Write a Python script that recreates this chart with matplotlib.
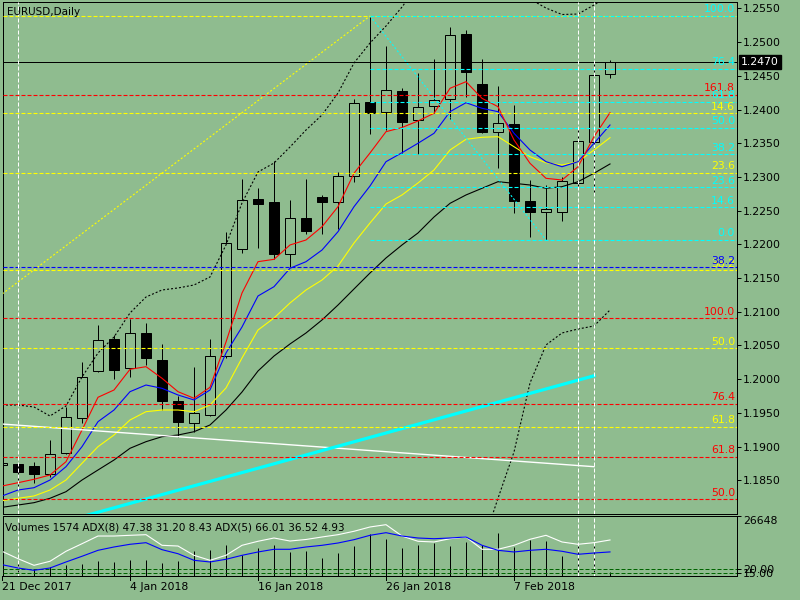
import numpy as np
import matplotlib
matplotlib.use("Agg")
import matplotlib.pyplot as plt
from matplotlib import transforms

plt.rcParams['lines.scale_dashes'] = False
plt.rcParams['font.family'] = ['DejaVu Sans']

# ---------------- data ----------------
idx = np.arange(39)
date_labels = ["21 Dec 2017", "4 Jan 2018", "16 Jan 2018", "26 Jan 2018", "7 Feb 2018"]
date_label_idx = [0, 8, 16, 24, 32]

opens = [1.18726, 1.18741, 1.18711, 1.18588, 1.18909, 1.19419, 1.20116, 1.20591, 1.20161, 1.20680,
         1.20280, 1.19676, 1.19354, 1.19468, 1.20343, 1.21936, 1.22673, 1.22629, 1.21861, 1.22387,
         1.22703, 1.22624, 1.23010, 1.24108, 1.23960, 1.24276, 1.23841, 1.24053, 1.24153, 1.25122,
         1.24380, 1.23672, 1.23786, 1.22643, 1.22476, 1.22476, 1.22915, 1.23523, 1.24524]
highs = [1.18780, 1.18760, 1.18775, 1.19097, 1.19591, 1.20259, 1.20803, 1.20655, 1.20893, 1.20829,
         1.20522, 1.19750, 1.20176, 1.20591, 1.22188, 1.22970, 1.22832, 1.23237, 1.22658, 1.22970,
         1.22733, 1.23069, 1.24157, 1.25389, 1.24944, 1.24316, 1.24543, 1.24746, 1.25230, 1.25181,
         1.24746, 1.24350, 1.24068, 1.22955, 1.22881, 1.23004, 1.23712, 1.24687, 1.24736]
lows = [1.18680, 1.18360, 1.18454, 1.18552, 1.18890, 1.19354, 1.20100, 1.20002, 1.20036, 1.20210,
        1.19542, 1.19146, 1.19220, 1.19450, 1.20320, 1.21876, 1.21951, 1.21778, 1.21660, 1.22149,
        1.22149, 1.22228, 1.22930, 1.23638, 1.23697, 1.23356, 1.23341, 1.23945, 1.23856, 1.24191,
        1.23648, 1.23138, 1.22461, 1.22114, 1.22065, 1.22351, 1.22856, 1.22758, 1.24473]
closes = [1.18756, 1.18627, 1.18588, 1.18885, 1.19434, 1.20027, 1.20576, 1.20136, 1.20680, 1.20309,
          1.19680, 1.19369, 1.19493, 1.20339, 1.22016, 1.22654, 1.22603, 1.21861, 1.22387, 1.22203,
          1.22633, 1.23010, 1.24093, 1.23954, 1.24291, 1.23820, 1.24034, 1.24142, 1.25102, 1.24562,
          1.23672, 1.23796, 1.22648, 1.22476, 1.22525, 1.22940, 1.23529, 1.24509, 1.24700]

ma_red = [1.18414, 1.18463, 1.18514, 1.18578, 1.18775, 1.19245, 1.19731, 1.19839, 1.20146, 1.20185,
          1.20013, 1.19814, 1.19716, 1.19879, 1.20551, 1.21278, 1.21743, 1.21778, 1.21991, 1.22065,
          1.22262, 1.22559, 1.23055, 1.23356, 1.23672, 1.23734, 1.23831, 1.23945, 1.24316, 1.24414,
          1.24167, 1.24043, 1.23549, 1.23203, 1.22980, 1.22955, 1.23152, 1.23598, 1.23954]
ma_blue = [1.18266, 1.18355, 1.18389, 1.18503, 1.18701, 1.18998, 1.19369, 1.19542, 1.19814, 1.19913,
           1.19864, 1.19765, 1.19691, 1.19839, 1.20388, 1.20774, 1.21234, 1.21372, 1.21645, 1.21743,
           1.21916, 1.22188, 1.22559, 1.22866, 1.23227, 1.23360, 1.23500, 1.23648, 1.23969, 1.24102,
           1.24019, 1.23969, 1.23648, 1.23400, 1.23227, 1.23152, 1.23227, 1.23500, 1.23771]
ma_yellow = [1.18196, 1.18232, 1.18266, 1.18355, 1.18503, 1.18751, 1.18998, 1.19171, 1.19394, 1.19517,
             1.19542, 1.19542, 1.19517, 1.19616, 1.19869, 1.20314, 1.20729, 1.20907, 1.21130, 1.21323,
             1.21471, 1.21679, 1.22020, 1.22317, 1.22599, 1.22733, 1.22911, 1.23104, 1.23400, 1.23559,
             1.23589, 1.23598, 1.23449, 1.23301, 1.23212, 1.23178, 1.23227, 1.23400, 1.23583]
ma_black = [1.18098, 1.18132, 1.18167, 1.18232, 1.18330, 1.18503, 1.18652, 1.18800, 1.18974, 1.19072,
            1.19146, 1.19171, 1.19220, 1.19320, 1.19542, 1.19809, 1.20121, 1.20343, 1.20522, 1.20685,
            1.20878, 1.21100, 1.21338, 1.21575, 1.21798, 1.21991, 1.22169, 1.22406, 1.22609, 1.22733,
            1.22832, 1.22930, 1.22906, 1.22881, 1.22832, 1.22856, 1.22930, 1.23055, 1.23193]
band_upper = [1.19616, 1.19616, 1.19587, 1.19453, 1.19602, 1.20032, 1.20388, 1.20625, 1.20982, 1.21219,
              1.21323, 1.21353, 1.21397, 1.21516, 1.21991, 1.22614, 1.23074, 1.23207, 1.23445, 1.23697,
              1.23920, 1.24246, 1.24691, 1.24988, 1.25240, 1.25522, 1.25849, 1.26071, 1.26220, 1.26220,
              1.26145, 1.26042, 1.25893, 1.25641, 1.25507, 1.25411, 1.25418, 1.25552, 1.25700]
band_lower = [None] * 30 + [1.17520, 1.18232, 1.18919, 1.19943, 1.20507, 1.20685, 1.20744, 1.20789, 1.21026]

volumes = [9000, 6528, 3242, 3997, 4752, 5462, 6528, 6217, 6972, 6972,
           5906, 6528, 10969, 11413, 13634, 9459, 12435, 13634, 10658, 11103,
           7994, 10214, 13323, 18785, 16565, 12435, 13634, 14655, 13323, 15099,
           13900, 19096, 12879, 15854, 15410, 8882, 13634, 14344, 1574]
adx5_main = [48.4, 36.8, 26.5, 32.8, 48.4, 60.2, 72.2, 72.2, 73.3, 74.3,
             57.7, 56.6, 42.1, 34.3, 42.1, 57.7, 64.0, 69.1, 64.4, 66.8,
             70.7, 74.3, 79.6, 86.3, 89.9, 72.2, 64.0, 62.9, 68.0, 70.7,
             51.5, 51.5, 57.7, 67.1, 73.3, 62.9, 59.3, 61.8, 66.01]
adx8_main = [27.5, 22.3, 18.7, 22.3, 31.7, 40.6, 49.9, 55.1, 59.3, 61.8,
             50.9, 44.6, 34.3, 31.7, 35.9, 42.1, 47.3, 51.5, 51.5, 55.1,
             57.7, 61.3, 66.5, 73.3, 77.4, 72.2, 69.1, 68.0, 69.1, 70.7,
             57.7, 49.9, 47.3, 49.9, 51.5, 48.4, 43.7, 45.7, 47.38]
adx_levels = [20, 15]
adx_level_labels = ["20.00", "15.00"]
volume_max = 26648

# Fibonacci objects
cyan_fib_high, cyan_fib_low, cyan_fib_start = 1.25389, 1.22065, 23
cyan_fib_ratios = [100.0, 76.4, 61.8, 50.0, 38.2, 23.6, 14.6, 0.0]
yellow_fib_top, yellow_fib_bottom = 1.25389, 1.15521
yellow_fib_ratios = [0.0, 14.6, 23.6, 38.2, 50.0, 61.8]
yellow_fib_hidden_labels = [0.0]  # label sits exactly under the cyan "100.0"
red_fib_low, red_fib_high = 1.15530, 1.20903
red_fib_ratios = [50.0, 61.8, 76.4, 100.0, 161.8]
blue_level_price, blue_level_label = 1.21660, "38.2"

yellow_diag_x, yellow_diag_y = [-32, 23], [1.15521, 1.25389]
cyan_diag_x, cyan_diag_y = [23, 34], [1.25389, 1.22065]
white_trend_x, white_trend_y = [0, 37], [1.19334, 1.18701]
cyan_trend_x, cyan_trend_y = [5, 37], [1.1796, 1.2005]
vlines_idx = [1, 36, 37]
bid_price = 1.2470
price_ticks = [1.1850, 1.1900, 1.1950, 1.2000, 1.2050, 1.2100, 1.2150, 1.2200,
               1.2250, 1.2300, 1.2350, 1.2400, 1.2450, 1.2500, 1.2550]

# ---------------- styling ----------------
BG = '#8FBC8F'
W, H = 800, 600
PX = 0.72  # one pixel in points
DASH = (0, (4 * PX, 2 * PX))
DOT = (0, (2 * PX, 2 * PX))
FS = 7.8

fig = plt.figure(figsize=(8, 6), dpi=100, facecolor=BG)


def fx(px):
    return px / W


def fy(py):
    return 1 - py / H


X0, X1 = (3 - 2) / 16, (737 - 2) / 16
ax = fig.add_axes([fx(3), fy(514), (737 - 3) / W, (514 - 2) / H], facecolor=BG)
sv = fig.add_axes([fx(3), fy(576), (737 - 3) / W, (576 - 516) / H], facecolor=BG)
sa = fig.add_axes([fx(3), fy(576), (737 - 3) / W, (576 - 516) / H], facecolor='none')

for a in (ax, sv, sa):
    a.set_xlim(X0, X1)
    a.set_xticks([])
ax.set_ylim(1.1799889, 1.2559645)
sv.set_ylim(0, volume_max)
sa.set_ylim(9.83, 103.43)
for a in (ax, sv):
    for s in a.spines.values():
        s.set_linewidth(PX)
        s.set_color('black')
for s in sa.spines.values():
    s.set_visible(False)

# price axis
ax.yaxis.tick_right()
ax.set_yticks(price_ticks)
ax.set_yticklabels([f"{p:.4f}" for p in price_ticks])
ax.tick_params(axis='y', direction='out', length=4 * PX, width=PX, pad=1.5, labelsize=FS, colors='black')

# candles
body_w = 0.63
ax.vlines(idx, lows, highs, color='black', lw=PX, zorder=2)
o = np.array(opens)
c = np.array(closes)
bull = c >= o
ax.bar(idx[bull], (c - o)[bull], bottom=o[bull], width=body_w, facecolor=BG,
       edgecolor='black', linewidth=PX, zorder=2.5)
ax.bar(idx[~bull], (c - o)[~bull], bottom=o[~bull], width=body_w, facecolor='black',
       edgecolor='black', linewidth=PX, zorder=2.5)

# moving averages and bands
ax.plot(idx, ma_black, color='black', lw=0.8, zorder=3)
ax.plot(idx, ma_yellow, color='#FFFF00', lw=0.8, zorder=3)
ax.plot(idx, ma_blue, color='#0000FF', lw=0.8, zorder=3)
ax.plot(idx, ma_red, color='#FF0000', lw=0.8, zorder=3)
ax.plot(idx, band_upper, color='black', lw=0.8, ls=DOT, zorder=3)
ax.plot(idx, [np.nan if v is None else v for v in band_lower], color='black', lw=0.8, ls=DOT, zorder=3)

# trend lines
ax.plot(yellow_diag_x, yellow_diag_y, color='#FFFF00', lw=0.8, ls=DOT, zorder=3)
ax.plot(cyan_diag_x, cyan_diag_y, color='#00FFFF', lw=0.8, ls=DOT, zorder=3)
ax.plot(white_trend_x, white_trend_y, color='white', lw=1.0, zorder=3)
ax.plot(cyan_trend_x, cyan_trend_y, color='#00FFFF', lw=2.3, zorder=3)

# fib level lines and labels
lab_x = (735 - 2) / 16
lab_tr = transforms.offset_copy(ax.transData, fig=fig, x=0, y=3.5, units='dots')


def level(price, col, x_start, label):
    ax.plot([x_start, X1], [price, price], color=col, lw=0.8, ls=DASH, zorder=3.2)
    if label is not None:
        ax.text(lab_x, price, label, color=col, fontsize=FS, ha='right', va='baseline',
                transform=lab_tr, zorder=4)


for r in yellow_fib_ratios:
    level(yellow_fib_top - r / 100 * (yellow_fib_top - yellow_fib_bottom), '#FFFF00', X0,
          None if r in yellow_fib_hidden_labels else f"{r:.1f}")
for r in red_fib_ratios:
    level(red_fib_low + r / 100 * (red_fib_high - red_fib_low), '#FF0000', X0, f"{r:.1f}")
level(blue_level_price, '#0000FF', X0, blue_level_label)
for r in cyan_fib_ratios:
    level(cyan_fib_low + r / 100 * (cyan_fib_high - cyan_fib_low), '#00FFFF', cyan_fib_start, f"{r:.1f}")

# bid line
ax.axhline(bid_price, color='black', lw=PX, zorder=3.5)
btr = transforms.blended_transform_factory(fig.transFigure, ax.transData)
ax.text(fx(741), bid_price, f"{bid_price:.4f}", transform=btr, color='white', fontsize=FS,
        ha='left', va='center', clip_on=False, zorder=10,
        bbox=dict(boxstyle='square,pad=0.18', fc='black', ec='black'))

# vertical dashed lines
for v in vlines_idx:
    for a in (ax, sv):
        a.axvline(v, color='white', lw=PX, ls=DASH, zorder=3.6)

fig.text(fx(7), fy(12), "EURUSD,Daily", fontsize=FS - 0.3, color='black', ha='left', va='center')

# sub window: volumes + ADX
sv.vlines(idx, 0, volumes, color='black', lw=PX, zorder=2)
sv.yaxis.tick_right()
sv.set_yticks([volume_max])
sv.set_yticklabels([str(volume_max)])
sv.tick_params(axis='y', direction='out', length=4 * PX, width=PX, pad=1.5, labelsize=FS)
for t in sv.get_yticklabels():
    t.set_va('top')

for lv in adx_levels:
    sa.axhline(lv, color='#006400', lw=PX, ls=DASH, zorder=1)
sa.plot(idx, adx5_main, color='white', lw=0.8, zorder=3)
sa.plot(idx, adx8_main, color='#0000FF', lw=0.8, zorder=3)
sa.yaxis.tick_right()
sa.set_yticks(adx_levels)
sa.set_yticklabels(adx_level_labels)
sa.tick_params(axis='y', direction='out', length=4 * PX, width=PX, pad=1.5, labelsize=FS)

fig.text(fx(5), fy(527), "Volumes 1574 ADX(8) 47.38 31.20 8.43 ADX(5) 66.01 36.52 4.93",
         fontsize=FS - 0.3, color='black', ha='left', va='center')

# date labels
dtr = transforms.blended_transform_factory(sv.transData, fig.transFigure)
for i, lab in zip(date_label_idx, date_labels):
    sv.plot([i, i], [fy(576), fy(580)], transform=dtr, color='black', lw=PX, clip_on=False)
    sv.text(i, fy(587), lab, transform=dtr, fontsize=FS, ha='left', va='center', clip_on=False)

fig.savefig("out.png", dpi=100, facecolor=BG)
